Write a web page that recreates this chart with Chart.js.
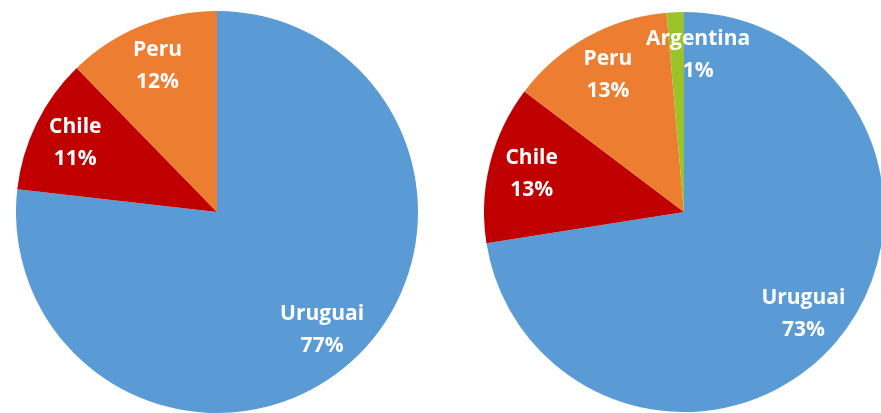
<!DOCTYPE html>
<html>
<head>
<meta charset="utf-8">
<script src="https://cdn.jsdelivr.net/npm/chart.js@4"></script>
<style>
  html,body{margin:0;padding:0;background:#fff;overflow:hidden;width:881px;height:413px;}
  canvas{position:absolute;}
  #pieLeft{left:16px;top:11px;}
  #pieRight{left:484px;top:12px;}
</style>
</head>
<body>
<canvas id="pieLeft" width="402" height="402"></canvas>
<canvas id="pieRight" width="400" height="400"></canvas>
<script>
const leftLabels = ['Uruguai','Chile','Peru'];
const leftValues = [76.8, 10.9, 12.3];
const leftPct = ['77%','11%','12%'];

const rightLabels = ['Uruguai','Chile','Peru','Argentina'];
const rightValues = [72.5, 12.8, 13.3, 1.4];
const rightPct = ['73%','13%','13%','1%'];

const sliceColors = {Uruguai:'#5B9BD5', Chile:'#C00000', Peru:'#ED7D31', Argentina:'#9DC32A'};

const sliceText = {
  id:'sliceText',
  afterDatasetsDraw(chart, args, opts){
    const ctx = chart.ctx;
    const meta = chart.getDatasetMeta(0);
    ctx.save();
    ctx.fillStyle = '#fff';
    ctx.font = 'bold 21px "Open Sans", Lato, sans-serif';
    ctx.textAlign = 'center';
    ctx.textBaseline = 'middle';
    meta.data.forEach((arc, i) => {
      const p = arc.getProps(['x','y','startAngle','endAngle','outerRadius'], true);
      const mid = (p.startAngle + p.endAngle) / 2;
      const d = p.outerRadius * 0.785;
      const shift = (opts.shift && opts.shift[i]) || 0;
      const cx = p.x + Math.cos(mid) * d + shift;
      const cy = p.y + Math.sin(mid) * d;
      ctx.fillText(chart.data.labels[i], cx, cy - 16);
      ctx.fillText(opts.pct[i], cx, cy + 16);
    });
    ctx.restore();
  }
};

function initPie(canvasId, labels, values, pct, shift){
  const ctx = document.getElementById(canvasId).getContext('2d');
  new Chart(ctx, {
    type:'pie',
    data:{labels, datasets:[{data:values, backgroundColor:labels.map(l=>sliceColors[l]), borderWidth:0}]},
    options:{
      responsive:false, animation:false,
      layout:{padding:0},
      plugins:{legend:{display:false}, tooltip:{enabled:false}, sliceText:{pct, shift}}
    },
    plugins:[sliceText]
  });
}

initPie('pieLeft', leftLabels, leftValues, leftPct, [0,0,0]);
initPie('pieRight', rightLabels, rightValues, rightPct, [0,0,0,21]);
</script>
</body>
</html>
